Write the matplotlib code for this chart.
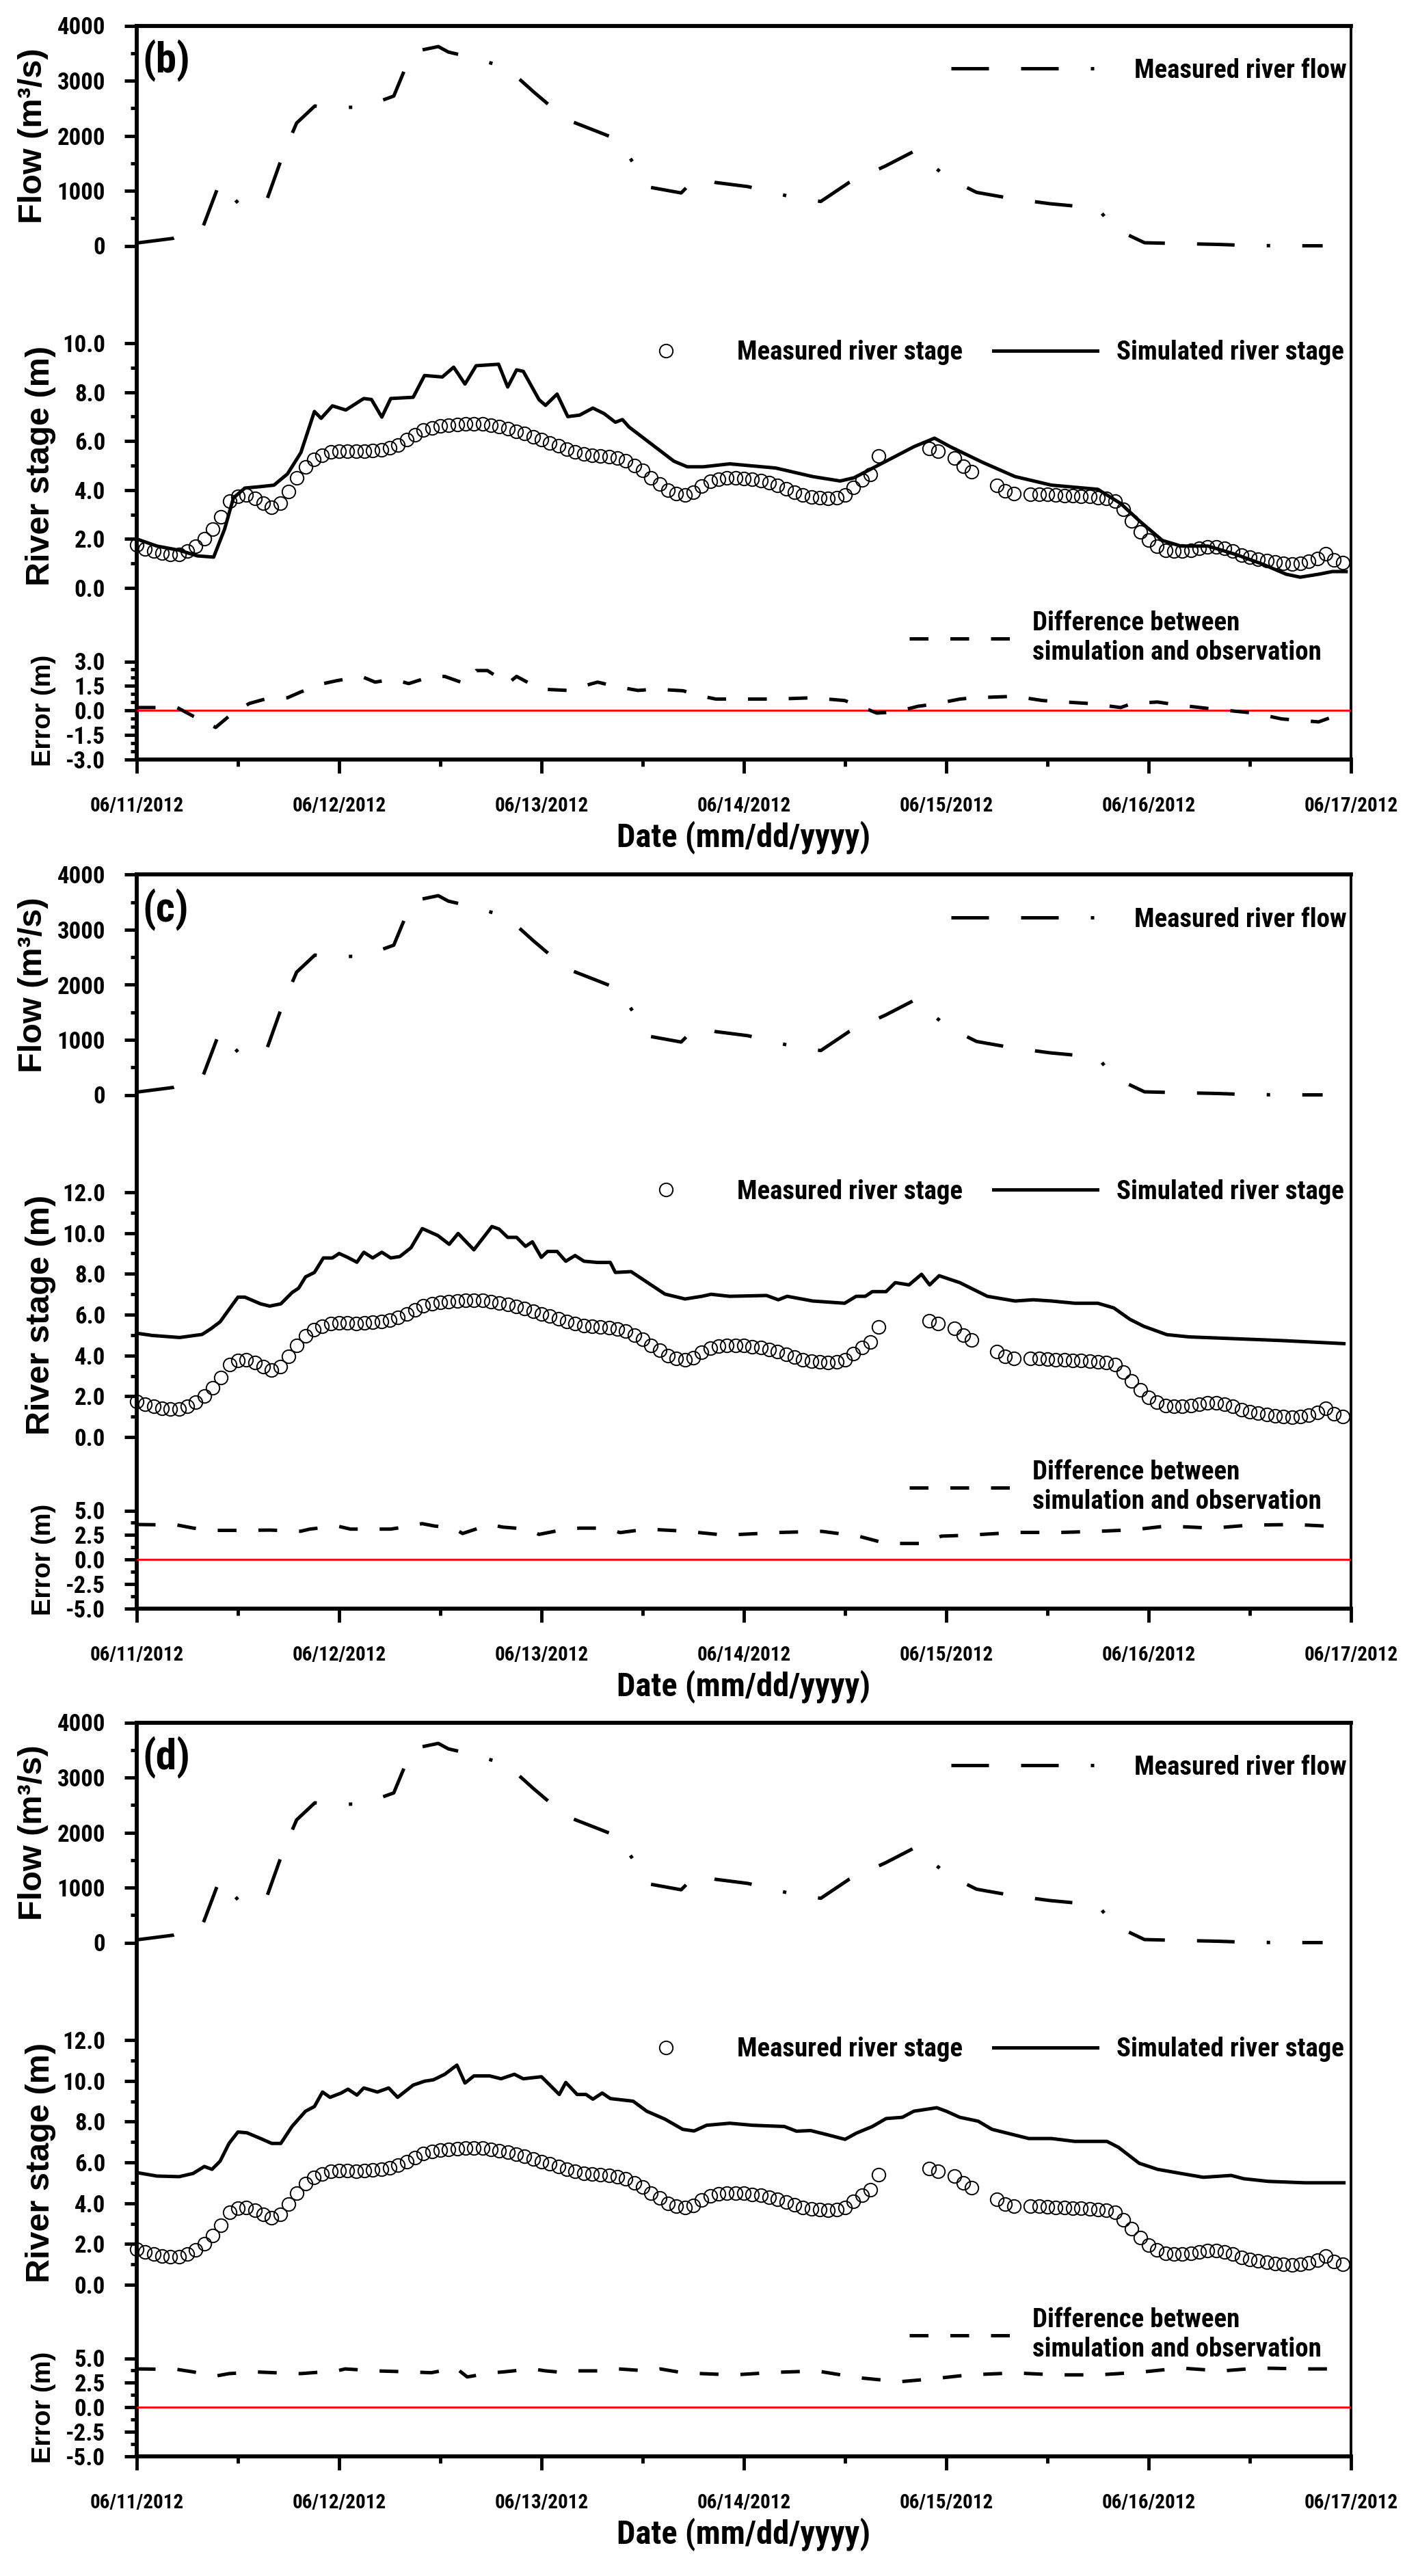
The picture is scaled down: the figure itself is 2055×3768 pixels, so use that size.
import os
import numpy as np
import matplotlib
matplotlib.use("Agg")
import matplotlib.pyplot as plt
from matplotlib import font_manager
from matplotlib.font_manager import FontProperties
from matplotlib.lines import Line2D
from matplotlib.ticker import FixedLocator, FormatStrFormatter

# ---------------- data ----------------
day_ticks = [0, 1, 2, 3, 4, 5, 6]
day_minor = [0.5, 1.5, 2.5, 3.5, 4.5, 5.5]
day_labels = ["06/11/2012", "06/12/2012", "06/13/2012", "06/14/2012",
              "06/15/2012", "06/16/2012", "06/17/2012"]
panel_labels = ["(b)", "(c)", "(d)"]

# measured river flow (day, m3/s)
flow = np.array([
    [0.00, 50], [0.18, 135], [0.33, 370], [0.41, 1150], [0.50, 780],
    [0.64, 805], [0.72, 1630], [0.79, 2230], [0.88, 2540], [0.96, 2510],
    [1.12, 2520], [1.27, 2720], [1.36, 3520], [1.49, 3620], [1.54, 3520],
    [1.67, 3410], [1.83, 3230], [1.96, 2800], [2.12, 2300], [2.28, 2070],
    [2.37, 1940], [2.43, 1630], [2.54, 1060], [2.69, 960], [2.75, 1180],
    [2.79, 1220], [2.86, 1150], [3.02, 1075], [3.21, 910], [3.38, 805],
    [3.52, 1150], [3.70, 1450], [3.85, 1735], [4.00, 1245], [4.15, 970],
    [4.32, 860], [4.51, 765], [4.67, 710], [4.75, 675], [4.83, 315],
    [4.98, 55], [5.15, 40], [5.34, 25], [5.50, 5], [5.69, 0], [5.86, 0]])

# measured river stage, hourly from 06/11 00:00 (m); nan = no reading
nan = np.nan
obs_stage = np.array([
    1.75, 1.60, 1.50, 1.42, 1.36, 1.38, 1.50, 1.70, 2.00, 2.40, 2.90, 3.55,
    3.75, 3.80, 3.65, 3.45, 3.30, 3.45, 3.95, 4.50, 4.95, 5.25, 5.42, 5.55,
    5.60, 5.60, 5.58, 5.60, 5.62, 5.65, 5.72, 5.85, 6.05, 6.25, 6.45, 6.55,
    6.62, 6.65, 6.68, 6.70, 6.70, 6.69, 6.65, 6.58, 6.50, 6.40, 6.30, 6.18,
    6.05, 5.92, 5.80, 5.68, 5.55, 5.47, 5.42, 5.38, 5.35, 5.30, 5.20, 5.00,
    4.80, 4.50, 4.25, 4.00, 3.85, 3.80, 3.90, 4.15, 4.35, 4.45, 4.50, 4.50,
    4.48, 4.44, 4.38, 4.30, 4.20, 4.05, 3.92, 3.80, 3.72, 3.68, 3.67, 3.68,
    3.80, 4.10, 4.40, 4.65, 5.40, nan, nan, nan, nan, nan, 5.70, 5.58,
    nan, 5.32, 4.98, 4.75, nan, nan, 4.20, 3.96, 3.85, nan, 3.84, 3.84,
    3.82, 3.80, 3.78, 3.76, 3.75, 3.73, 3.70, 3.65, 3.55, 3.20, 2.75, 2.30,
    1.95, 1.70, 1.55, 1.50, 1.50, 1.55, 1.62, 1.68, 1.68, 1.62, 1.50, 1.35,
    1.25, 1.18, 1.12, 1.05, 1.00, 0.98, 1.00, 1.08, 1.20, 1.40, 1.15, 1.02])
obs_days = np.arange(len(obs_stage)) / 24.0

# simulated river stage (day, m)
sim_b = np.array([
    [0.0, 2.0], [0.1, 1.71], [0.21, 1.54], [0.3, 1.31], [0.38, 1.26],
    [0.434, 2.4], [0.478, 3.68], [0.534, 4.08], [0.612, 4.14], [0.678, 4.2],
    [0.745, 4.66], [0.811, 5.53], [0.878, 7.21], [0.911, 6.93], [0.967, 7.44],
    [1.033, 7.27], [1.122, 7.74], [1.16, 7.7], [1.211, 6.98], [1.255, 7.74],
    [1.366, 7.79], [1.422, 8.68], [1.51, 8.62], [1.566, 9.02], [1.622, 8.33],
    [1.677, 9.08], [1.788, 9.14], [1.833, 8.21], [1.877, 8.91], [1.91, 8.85],
    [1.988, 7.69], [2.02, 7.46], [2.077, 7.92], [2.13, 7.0], [2.188, 7.06],
    [2.254, 7.35], [2.31, 7.12], [2.365, 6.77], [2.4, 6.88], [2.432, 6.58],
    [2.543, 5.88], [2.654, 5.18], [2.72, 4.95], [2.8, 4.95], [2.93, 5.07],
    [3.157, 4.9], [3.34, 4.55], [3.476, 4.37], [3.544, 4.5], [3.703, 5.18],
    [3.84, 5.77], [3.942, 6.12], [4.02, 5.77], [4.18, 5.13], [4.34, 4.55],
    [4.52, 4.2], [4.749, 4.03], [4.862, 3.45], [4.953, 2.75], [5.068, 1.94],
    [5.16, 1.71], [5.294, 1.71], [5.43, 1.37], [5.567, 0.96], [5.68, 0.56],
    [5.749, 0.44], [5.84, 0.56], [5.908, 0.67], [5.976, 0.67]])

sim_c = np.array([
    [0.0, 5.09], [0.077, 4.98], [0.212, 4.88], [0.323, 5.03], [0.368, 5.32],
    [0.412, 5.65], [0.5, 6.86], [0.534, 6.86], [0.612, 6.53], [0.657, 6.42],
    [0.712, 6.53], [0.767, 7.08], [0.8, 7.3], [0.834, 7.85], [0.878, 8.07],
    [0.922, 8.78], [0.967, 8.78], [1.0, 9.0], [1.044, 8.8], [1.088, 8.57],
    [1.122, 9.06], [1.166, 8.78], [1.211, 9.06], [1.255, 8.78], [1.3, 8.85],
    [1.355, 9.28], [1.411, 10.22], [1.488, 9.88], [1.544, 9.45], [1.588, 9.98],
    [1.666, 9.18], [1.755, 10.32], [1.79, 10.2], [1.833, 9.79], [1.877, 9.79],
    [1.921, 9.35], [1.955, 9.57], [1.999, 8.81], [2.03, 9.1], [2.077, 9.1],
    [2.12, 8.62], [2.166, 8.9], [2.21, 8.62], [2.277, 8.56], [2.34, 8.56],
    [2.365, 8.07], [2.443, 8.11], [2.543, 7.45], [2.61, 7.01], [2.709, 6.77],
    [2.793, 6.9], [2.838, 7.0], [2.93, 6.9], [3.112, 6.94], [3.17, 6.73],
    [3.214, 6.9], [3.34, 6.67], [3.498, 6.56], [3.555, 6.9], [3.6, 6.9],
    [3.635, 7.13], [3.703, 7.13], [3.748, 7.57], [3.816, 7.46], [3.878, 7.98],
    [3.918, 7.46], [3.965, 7.91], [4.067, 7.57], [4.203, 6.9], [4.34, 6.67],
    [4.43, 6.73], [4.52, 6.67], [4.635, 6.56], [4.749, 6.56], [4.828, 6.33],
    [4.908, 5.77], [4.976, 5.43], [5.09, 5.02], [5.2, 4.91], [5.43, 4.82],
    [5.659, 4.73], [5.965, 4.58]])

sim_d = np.array([
    [0.0, 5.5], [0.1, 5.33], [0.21, 5.3], [0.279, 5.46], [0.334, 5.8],
    [0.372, 5.66], [0.412, 6.06], [0.456, 6.93], [0.5, 7.49], [0.545, 7.45],
    [0.612, 7.17], [0.667, 6.93], [0.712, 6.93], [0.767, 7.76], [0.834, 8.51],
    [0.878, 8.74], [0.918, 9.45], [0.955, 9.19], [1.01, 9.4], [1.044, 9.59],
    [1.088, 9.3], [1.122, 9.65], [1.189, 9.45], [1.245, 9.65], [1.289, 9.19],
    [1.366, 9.79], [1.422, 9.98], [1.466, 10.05], [1.522, 10.32], [1.582, 10.77],
    [1.622, 9.89], [1.666, 10.24], [1.744, 10.24], [1.8, 10.1], [1.866, 10.32],
    [1.91, 10.1], [2.0, 10.2], [2.088, 9.33], [2.12, 9.92], [2.176, 9.33],
    [2.22, 9.33], [2.254, 9.1], [2.3, 9.4], [2.34, 9.13], [2.453, 9.0],
    [2.52, 8.51], [2.61, 8.12], [2.698, 7.62], [2.754, 7.54], [2.816, 7.82],
    [2.93, 7.92], [3.044, 7.82], [3.2, 7.76], [3.26, 7.53], [3.33, 7.56],
    [3.407, 7.37], [3.5, 7.13], [3.555, 7.43], [3.635, 7.76], [3.703, 8.15],
    [3.783, 8.21], [3.84, 8.51], [3.953, 8.68], [4.0, 8.51], [4.067, 8.21],
    [4.158, 8.02], [4.226, 7.62], [4.408, 7.17], [4.52, 7.17], [4.635, 7.03],
    [4.794, 7.03], [4.851, 6.74], [4.953, 5.96], [5.044, 5.66], [5.158, 5.46],
    [5.27, 5.27], [5.408, 5.36], [5.47, 5.2], [5.59, 5.07], [5.772, 5.0],
    [5.965, 5.0]])

# difference between simulation and observation (day, m)
err_b = np.array([
    [0.0, 0.17], [0.2, 0.17], [0.279, -0.36], [0.39, -1.05], [0.456, -0.36],
    [0.556, 0.42], [0.634, 0.69], [0.745, 0.77], [0.811, 1.13], [0.922, 1.64],
    [0.989, 1.82], [1.11, 2.08], [1.178, 1.73], [1.267, 1.91], [1.344, 1.64],
    [1.455, 2.08], [1.522, 2.08], [1.622, 1.64], [1.677, 2.44], [1.733, 2.44],
    [1.833, 1.64], [1.877, 2.08], [1.943, 1.64], [1.999, 1.3], [2.13, 1.22],
    [2.277, 1.73], [2.365, 1.47], [2.476, 1.22], [2.564, 1.3], [2.7, 1.2],
    [2.78, 0.9], [2.862, 0.69], [3.157, 0.69], [3.34, 0.77], [3.498, 0.6],
    [3.555, 0.34], [3.657, -0.17], [3.748, -0.1], [3.862, 0.25], [3.942, 0.38],
    [4.067, 0.69], [4.135, 0.77], [4.34, 0.86], [4.476, 0.6], [4.703, 0.42],
    [4.862, 0.17], [4.919, 0.42], [5.044, 0.51], [5.135, 0.34], [5.318, 0.08],
    [5.522, -0.17], [5.658, -0.53], [5.84, -0.71], [5.919, -0.36]])

err_c = np.array([
    [0.0, 3.57], [0.2, 3.52], [0.28, 3.2], [0.39, 2.97], [0.48, 2.97],
    [0.66, 3.0], [0.81, 2.88], [0.855, 3.1], [0.99, 3.42], [1.056, 3.1],
    [1.255, 3.1], [1.355, 3.42], [1.41, 3.66], [1.47, 3.42], [1.566, 3.2],
    [1.61, 2.65], [1.744, 3.57], [1.81, 3.3], [1.932, 3.1], [1.988, 2.56],
    [2.12, 3.1], [2.188, 3.2], [2.32, 3.2], [2.388, 2.74], [2.52, 3.1],
    [2.703, 2.9], [2.907, 2.48], [3.18, 2.76], [3.385, 2.87], [3.566, 2.38],
    [3.703, 1.63], [3.885, 1.63], [3.976, 2.38], [4.112, 2.48], [4.34, 2.76],
    [4.567, 2.76], [4.749, 2.87], [4.93, 3.04], [5.09, 3.42], [5.318, 3.2],
    [5.5, 3.51], [5.726, 3.57], [5.885, 3.4], [5.965, 3.51]])

err_d = np.array([
    [0.0, 3.91], [0.2, 3.86], [0.28, 3.6], [0.39, 3.18], [0.456, 3.43],
    [0.59, 3.6], [0.68, 3.52], [0.81, 3.43], [0.99, 3.71], [1.03, 3.91],
    [1.18, 3.71], [1.36, 3.6], [1.455, 3.52], [1.577, 4.0], [1.633, 3.09],
    [1.755, 3.52], [1.81, 3.6], [1.955, 3.91], [2.02, 3.71], [2.12, 3.52],
    [2.166, 3.71], [2.32, 3.71], [2.38, 3.91], [2.52, 3.71], [2.587, 3.91],
    [2.703, 3.5], [2.95, 3.3], [3.157, 3.56], [3.361, 3.7], [3.566, 3.01],
    [3.77, 2.6], [3.93, 2.89], [4.112, 3.3], [4.34, 3.5], [4.544, 3.3],
    [4.749, 3.3], [4.953, 3.56], [5.158, 4.0], [5.36, 3.7], [5.544, 4.0],
    [5.772, 3.91], [5.965, 3.91]])

stage_max = [10, 12, 12]
err_max = [3.0, 5.0, 5.0]
err_minor = [[-2.5, -2, -1, -0.5, 0.5, 1, 2, 2.5],
             [-3.75, -1.25, 1.25, 3.75],
             [-3.75, -1.25, 1.25, 3.75]]
sims = [sim_b, sim_c, sim_d]
errs = [err_b, err_c, err_d]

# ---------------- fonts ----------------
WIDE = "Liberation Sans"
plt.rcParams["font.family"] = [WIDE, "DejaVu Sans"]
plt.rcParams["font.weight"] = "bold"


def find_narrow_bold():
    prefs = ["liberation sans narrow", "arial narrow", "roboto condensed",
             "noto sans condensed", "dejavu sans condensed",
             "open sans condensed", "condensed", "narrow"]
    best = None
    for f in font_manager.fontManager.ttflist:
        key = (f.name + " " + os.path.basename(f.fname)).lower()
        key = key.replace("-", " ").replace("_", " ")
        if f.style != "normal":
            continue
        if "semi" in key or "extra" in key or "ultra" in key:
            continue
        if "mono" in key or "serif" in key:
            continue
        w = f.weight
        if isinstance(w, str):
            w = font_manager.weight_dict.get(w, 400)
        if w < 600 or w > 800:
            continue
        cond = ("narrow" in key or "condensed" in key
                or str(f.stretch) in ("condensed", "75"))
        if not cond:
            continue
        rank = len(prefs)
        for r, p in enumerate(prefs):
            if p in key:
                rank = r
                break
        if best is None or rank < best[0]:
            best = (rank, f.fname)
    return None if best is None else best[1]


NARROW_FILE = find_narrow_bold()
fs = 1.0 if NARROW_FILE else 0.84


def nprop(size):
    if NARROW_FILE:
        return FontProperties(fname=NARROW_FILE, size=size * fs)
    return FontProperties(family=WIDE, weight="bold", size=size * fs)


# ---------------- layout (pixels) ----------------
W, H = 2055, 3768
X0, X1 = 200, 1976
offsets = [0, 1242, 2482]
leg_stage_y = [478.5, 464, 478.5]

FLOW_DASH = [11, 9.4, 11, 9.4, 1, 9.4]
ERR_DASH = [5.5, 6.4]
LW = 3.6


def box(top, bottom):
    return [X0 / W, 1 - bottom / H, (X1 - X0) / W, (bottom - top) / H]


def sub_axes(top, bottom):
    a = fig.add_axes(box(top, bottom))
    a.patch.set_visible(False)
    for s in a.spines.values():
        s.set_visible(False)
    a.set_xlim(0, 6)
    a.set_xticks([])
    a.tick_params(axis="y", which="major", direction="out", length=13,
                  width=3.5, pad=20)
    a.tick_params(axis="y", which="minor", direction="out", length=6.5,
                  width=3.5)
    return a


def narrow_ticks(labels, size):
    for t in labels:
        t.set_fontproperties(nprop(size))


fig = plt.figure(figsize=(W / 100, H / 100), dpi=100)

for i in range(3):
    o = offsets[i]
    top, bot = 37.5 + o, 1110.5 + o

    # frame with date axis
    ax = fig.add_axes(box(top, bot))
    ax.set_xlim(0, 6)
    ax.set_ylim(0, 1)
    ax.set_yticks([])
    for side in ["top", "left", "bottom"]:
        ax.spines[side].set_linewidth(4.2)
    ax.spines["right"].set_linewidth(2.8)
    ax.set_xticks(day_ticks)
    ax.set_xticklabels(day_labels)
    narrow_ticks(ax.get_xticklabels(), 21)
    ax.xaxis.set_minor_locator(FixedLocator(day_minor))
    ax.tick_params(axis="x", which="major", direction="out", length=14.4,
                   width=3.5, pad=25)
    ax.tick_params(axis="x", which="minor", direction="out", length=7,
                   width=3.5)
    ax.set_xlabel("Date (mm/dd/yyyy)", fontproperties=nprop(35))
    ax.xaxis.set_label_coords(0.5, -90 / (bot - top))

    fig.text(208 / W, 1 - (top + 51) / H, panel_labels[i], ha="left",
             va="center", fontproperties=nprop(44))

    # flow
    fa = sub_axes(top, 359.5 + o)
    fa.set_ylim(0, 4000)
    fa.set_yticks([0, 1000, 2000, 3000, 4000])
    fa.yaxis.set_minor_locator(FixedLocator([500, 1500, 2500, 3500]))
    fa.yaxis.set_major_formatter(FormatStrFormatter("%d"))
    narrow_ticks(fa.get_yticklabels(), 25)
    fa.plot(flow[:, 0], flow[:, 1], color="k", lw=LW, dashes=FLOW_DASH,
            clip_on=False)
    fa.set_ylabel("Flow (m³/s)", family=WIDE, fontsize=35, fontweight="bold")
    fa.yaxis.set_label_coords((71 - X0) / (X1 - X0), 0.5)
    fa.legend(handles=[Line2D([], [], color="k", lw=LW, dashes=FLOW_DASH)],
              labels=["Measured river flow"], loc="center right",
              bbox_to_anchor=(1970 / W, 1 - (top + 66) / H),
              bbox_transform=fig.transFigure, frameon=False, borderpad=0,
              borderaxespad=0, handlelength=5.45 / fs,
              handletextpad=1.45 / fs, prop=nprop(28))

    # river stage
    smax = stage_max[i]
    sa = sub_axes(502 + o, 860 + o)
    sa.set_ylim(0, smax)
    sa.set_yticks(list(range(0, smax + 1, 2)))
    sa.yaxis.set_minor_locator(FixedLocator(list(range(1, smax, 2))))
    sa.yaxis.set_major_formatter(FormatStrFormatter("%.1f"))
    narrow_ticks(sa.get_yticklabels(), 25)
    sa.plot(obs_days, obs_stage, ls="none", marker="o", ms=14, mfc="none",
            mec="k", mew=1.4, clip_on=False)
    sim = sims[i]
    sa.plot(sim[:, 0], sim[:, 1], color="k", lw=LW, clip_on=False)
    sa.set_ylabel("River stage (m)", family=WIDE, fontsize=35,
                  fontweight="bold")
    sa.yaxis.set_label_coords((82 - X0) / (X1 - X0), 0.5)
    h_obs = Line2D([], [], ls="none", marker="o", ms=14, mfc="none",
                   mec="k", mew=1.4)
    h_sim = Line2D([], [], color="k", lw=LW)
    sa.legend(handles=[h_obs, h_sim],
              labels=["Measured river stage", "Simulated river stage"],
              ncol=2, loc="center right",
              bbox_to_anchor=(1966 / W, 1 - (top + leg_stage_y[i]) / H),
              bbox_transform=fig.transFigure, frameon=False, borderpad=0,
              borderaxespad=0, handlelength=3.9 / fs,
              handletextpad=0.72 / fs, columnspacing=1.18 / fs,
              prop=nprop(28))

    # error
    emax = err_max[i]
    ea = sub_axes(967.5 + o, bot)
    ea.set_ylim(-emax, emax)
    ea.set_yticks([-emax, -emax / 2, 0, emax / 2, emax])
    ea.yaxis.set_minor_locator(FixedLocator(err_minor[i]))
    ea.yaxis.set_major_formatter(FormatStrFormatter("%.1f"))
    narrow_ticks(ea.get_yticklabels(), 25)
    ea.axhline(0, color="#ff0000", lw=2.0, zorder=1)
    err = errs[i]
    ea.plot(err[:, 0], err[:, 1], color="k", lw=LW, dashes=ERR_DASH,
            zorder=2)
    ea.set_ylabel("Error (m)", family=WIDE, fontsize=27.5, fontweight="bold")
    ea.yaxis.set_label_coords((82 - X0) / (X1 - X0), 0.5)
    ea.legend(handles=[Line2D([], [], color="k", lw=LW, dashes=ERR_DASH)],
              labels=["Difference between\nsimulation and observation"],
              loc="center left",
              bbox_to_anchor=(1330 / W, 1 - (top + 895.5) / H),
              bbox_transform=fig.transFigure, frameon=False, borderpad=0,
              borderaxespad=0, handlelength=3.8 / fs,
              handletextpad=0.82 / fs, prop=nprop(28))

fig.savefig("out.png", dpi=100)
